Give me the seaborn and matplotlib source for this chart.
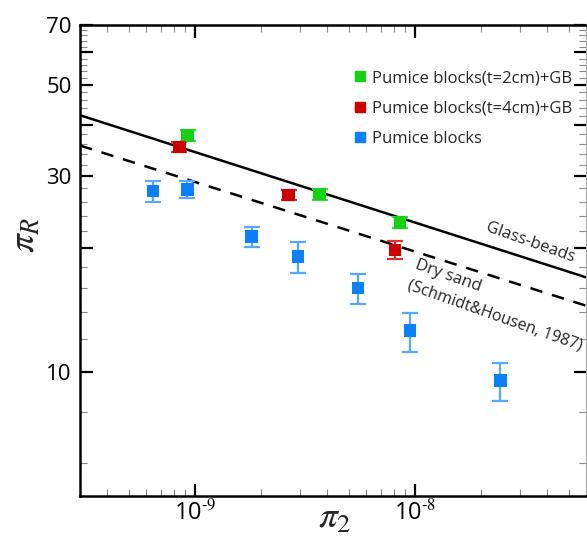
import numpy as np
import pandas as pd
import matplotlib
matplotlib.use("Agg")
import matplotlib.pyplot as plt
import matplotlib.ticker as mticker
from matplotlib.lines import Line2D
import seaborn as sns

# ---------------- data ----------------
labels = ["Pumice blocks(t=2cm)+GB", "Pumice blocks(t=4cm)+GB", "Pumice blocks"]

green_x = [9.27e-10, 3.69e-9, 8.55e-9]
green_y = [37.7, 27.1, 23.1]
green_lo = [36.6, 26.3, 22.4]
green_hi = [38.8, 27.9, 23.8]

red_x = [8.49e-10, 2.67e-9, 8.12e-9]
red_y = [35.3, 27.0, 19.8]
red_lo = [34.3, 26.2, 18.8]
red_hi = [36.4, 27.8, 20.8]

blue_x = [6.43e-10, 9.23e-10, 1.81e-9, 2.94e-9, 5.52e-9, 9.49e-9, 2.45e-8]
blue_y = [27.6, 27.8, 21.4, 19.1, 16.0, 12.6, 9.54]
blue_lo = [26.0, 26.5, 20.2, 17.4, 14.6, 11.2, 8.5]
blue_hi = [29.1, 29.1, 22.6, 20.7, 17.3, 13.9, 10.5]

glass_x = [3.0e-10, 6.0e-8]
glass_y = [42.2, 17.0]
sand_x = [3.0e-10, 6.0e-8]
sand_y = [35.6, 14.5]

x_major = [1e-9, 1e-8]
x_major_labels = [r"$\mathregular{10^{\text{-9}}}$", r"$\mathregular{10^{\text{-8}}}$"]
y_major = [10, 20, 30, 40, 50, 60, 70]
y_labeled = [10, 30, 50, 70]
y_minor = [6, 8, 12, 14, 16, 18, 22, 24, 26, 28, 32, 34, 36, 38,
           42, 44, 46, 48, 52, 54, 56, 58, 62, 64, 66, 68]

colors = ["#14d214", "#d00000", "#0a80ff"]
err_colors = ["#3ddc3d", "#e03030", "#55a8ff"]

# ---------------- style ----------------
sns.set_theme(style="ticks")
plt.rcParams["font.family"] = ["Open Sans", "DejaVu Sans"]
plt.rcParams["mathtext.fontset"] = "stix"

fig = plt.figure(figsize=(5.87, 5.37), dpi=100)
ax = fig.add_axes([80 / 587, 41.5 / 537, 506 / 587, 470.5 / 537])

# lines
sns.lineplot(x=glass_x, y=glass_y, ax=ax, color="black", lw=1.8, zorder=2)
sns.lineplot(x=sand_x, y=sand_y, ax=ax, color="black", lw=1.8, zorder=2,
             linestyle=(0, (5, 4)))

# error bars
for xs, ys, lo, hi, ec in [(green_x, green_y, green_lo, green_hi, err_colors[0]),
                           (red_x, red_y, red_lo, red_hi, err_colors[1]),
                           (blue_x, blue_y, blue_lo, blue_hi, err_colors[2])]:
    ys_a = np.array(ys)
    yerr = [ys_a - np.array(lo), np.array(hi) - ys_a]
    ax.errorbar(xs, ys, yerr=yerr, fmt="none", ecolor=ec, elinewidth=1.6,
                capsize=6, capthick=1.6, zorder=3)

df = pd.DataFrame({
    "x": green_x + red_x + blue_x,
    "y": green_y + red_y + blue_y,
    "series": [labels[0]] * len(green_x) + [labels[1]] * len(red_x) + [labels[2]] * len(blue_x),
})
sns.scatterplot(data=df, x="x", y="y", hue="series", hue_order=labels,
                palette=colors, marker="s", s=82, linewidth=0, ax=ax,
                zorder=4, legend=False)

ax.set_xscale("log")
ax.set_yscale("log")
ax.set_xlim(3.0e-10, 6.0e-8)
ax.set_ylim(5, 70)

# ticks
ax.xaxis.set_major_locator(mticker.FixedLocator(x_major))
ax.xaxis.set_major_formatter(mticker.FixedFormatter(x_major_labels))
ax.xaxis.set_minor_locator(mticker.LogLocator(base=10, subs=np.arange(2, 10), numticks=20))
ax.xaxis.set_minor_formatter(mticker.NullFormatter())

ax.yaxis.set_major_locator(mticker.FixedLocator(y_major))
ax.yaxis.set_major_formatter(mticker.FixedFormatter(
    [str(v) if v in y_labeled else "" for v in y_major]))
ax.yaxis.set_minor_locator(mticker.FixedLocator(y_minor))
ax.yaxis.set_minor_formatter(mticker.NullFormatter())

ax.tick_params(which="both", direction="in", top=True, right=True, colors="black")
ax.tick_params(which="major", length=9, width=1.6, labelsize=16, pad=6)
ax.tick_params(which="minor", length=5, width=0.8, color="#888888")
ax.tick_params(axis="x", which="major", pad=3, labelsize=17)

for side in ["left", "bottom", "top"]:
    ax.spines[side].set_linewidth(1.8)
    ax.spines[side].set_color("black")
ax.spines["right"].set_linewidth(0.8)
ax.spines["right"].set_color("#aaaaaa")

ax.set_xlabel("")
ax.set_ylabel("")
fig.text(25 / 587, 1 - 235 / 537, r"$\pi_R$", rotation=90, fontsize=27,
         ha="center", va="center")
fig.text(335 / 587, 0.5 / 537, r"$\pi_2$", fontsize=27, ha="center", va="bottom")

# annotations
ax.text(484, 537 - 235, "Glass-beads", transform=None, fontsize=12,
        rotation=-19.5, rotation_mode="anchor", ha="left", va="bottom")
ax.text(413, 537 - 272, "Dry sand", transform=None, fontsize=12,
        rotation=-19.5, rotation_mode="anchor", ha="left", va="bottom")
ax.text(405, 537 - 292, "(Schmidt&Housen, 1987)", transform=None, fontsize=11.5,
        rotation=-19.5, rotation_mode="anchor", ha="left", va="bottom")

# legend
handles = [Line2D([], [], marker="s", color=c, linestyle="none", markersize=7)
           for c in colors]
leg = ax.legend(handles, labels, loc="upper left",
                bbox_to_anchor=(343 / 587, 1 - 62 / 537), bbox_transform=fig.transFigure,
                frameon=False, fontsize=12, handletextpad=0.25, labelspacing=0.85,
                handlelength=1.0, borderpad=0)

fig.savefig("out.png", dpi=100)
